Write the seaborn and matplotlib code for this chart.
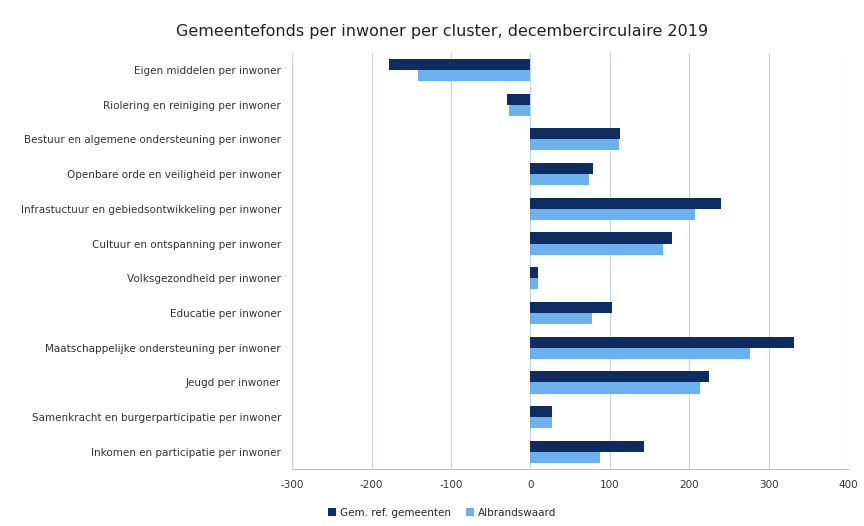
import pandas as pd
import matplotlib
matplotlib.use("Agg")
import matplotlib.pyplot as plt
import seaborn as sns

# Clusters (top to bottom)
categories = [
    "Eigen middelen per inwoner",
    "Riolering en reiniging per inwoner",
    "Bestuur en algemene ondersteuning per inwoner",
    "Openbare orde en veiligheid per inwoner",
    "Infrastuctuur en gebiedsontwikkeling per inwoner",
    "Cultuur en ontspanning per inwoner",
    "Volksgezondheid per inwoner",
    "Educatie per inwoner",
    "Maatschappelijke ondersteuning per inwoner",
    "Jeugd per inwoner",
    "Samenkracht en burgerparticipatie per inwoner",
    "Inkomen en participatie per inwoner",
]
series_names = ["Gem. ref. gemeenten", "Albrandswaard"]
ref_values = [-178, -29, 112, 79, 240, 178, 9, 102, 332, 224, 27, 143]
albr_values = [-142, -27, 111, 73, 207, 167, 9, 78, 276, 213, 27, 88]
x_ticks = [-300, -200, -100, 0, 100, 200, 300, 400]

colors = ["#0d2d62", "#6cb0ec"]

df = pd.DataFrame({
    "cluster": categories * 2,
    "serie": [series_names[0]] * len(categories) + [series_names[1]] * len(categories),
    "waarde": ref_values + albr_values,
})

sns.set_style("white")
plt.rcParams["font.family"] = ["DejaVu Sans"]

fig, ax = plt.subplots(figsize=(8.64, 5.26), dpi=100)
fig.subplots_adjust(left=0.338, right=0.982, top=0.9, bottom=0.108)

sns.barplot(data=df, y="cluster", x="waarde", hue="serie", orient="h",
            palette=colors, width=0.64, saturation=1, ax=ax, linewidth=0)

ax.set_xlim(x_ticks[0], x_ticks[-1])
ax.set_xticks(x_ticks)
ax.set_xticklabels([str(t) for t in x_ticks], fontsize=7.5, color="#333333")
ax.tick_params(axis="y", labelsize=7.5, labelcolor="#333333", length=0, pad=8)
ax.tick_params(axis="x", length=0, pad=8)
ax.set_xlabel("")
ax.set_ylabel("")
ax.grid(axis="x", color="#c9d3e6", linewidth=0.8)
ax.set_axisbelow(True)
for side in ["top", "right"]:
    ax.spines[side].set_visible(False)
ax.spines["left"].set_color("#c9d3e6")
ax.spines["left"].set_linewidth(0.8)
ax.spines["bottom"].set_color("#b8c4dc")
ax.axvline(0, color="#b8c4dc", linewidth=0.8, zorder=0.5)

ax.set_title("Gemeentefonds per inwoner per cluster, decembercirculaire 2019",
             fontsize=11.5, color="#222222", pad=12, x=0.27)

ax.legend(loc="upper center", bbox_to_anchor=(0.27, -0.07), ncol=2, frameon=False,
          fontsize=7.5, handlelength=0.7, handleheight=0.7, columnspacing=1.5,
          handletextpad=0.4)

plt.savefig("out.png", dpi=100)
